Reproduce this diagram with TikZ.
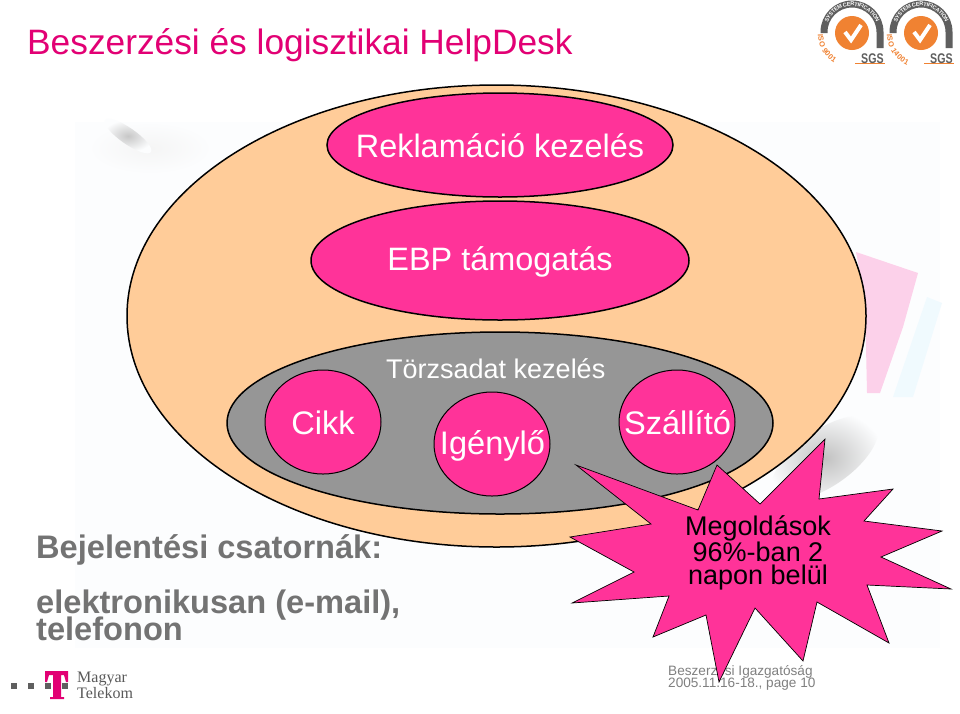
\documentclass[tikz,border=0pt]{standalone}
\usepackage{fontspec}
\setmainfont{Liberation Sans}
\newfontfamily\logofont{Liberation Serif}
\usetikzlibrary{shapes.geometric,positioning,decorations.text}
\definecolor{titlepink}{RGB}{226,0,116}
\definecolor{hotpink}{RGB}{255,51,153}
\definecolor{peach}{RGB}{255,204,153}
\definecolor{midgrey}{RGB}{150,150,150}
\definecolor{textgrey}{RGB}{115,115,115}
\definecolor{sgsorange}{RGB}{240,130,50}
\definecolor{sgsgrey}{RGB}{95,95,95}
\definecolor{palebg}{RGB}{252,253,254}
\begin{document}
\begin{tikzpicture}
[x=1pt,y=-1pt,
    blob/.style={draw,shape=ellipse,line width=1.5pt,inner sep=0pt},
    petal/.style={blob,fill=hotpink},
    petaltxt/.style={inner sep=0pt,text=white,font=\fontsize{32.4}{32.4}\selectfont},
    disc/.style={draw,shape=ellipse,fill=hotpink,line width=1pt,inner sep=0pt,minimum width=116pt,minimum height=104pt},
    disctxt/.style={inner sep=0pt,text=white,font=\fontsize{32.6}{32.6}\selectfont},
    lab/.style={inner sep=0pt,anchor=base west},
    foot/.style={lab,text=black!50,font=\fontsize{13.6}{13.6}\selectfont},
    chan/.style={lab,text=textgrey,font=\bfseries\fontsize{32.6}{32.6}\selectfont},
    mt/.style={lab,text=black!65,font=\logofont\fontsize{16}{16}\selectfont},
    seal/.style={line width=7pt,sgsgrey}]
\useasboundingbox (0,0) rectangle (960,713);
\fill[white] (0,0) rectangle (960,713);
%%%%% faint picture behind the ellipse
\fill[palebg] (75,122) rectangle (940,648);
\shade[inner color=black!4,outer color=palebg] (150,148) ellipse (62 and 26);
\shade[inner color=black!22,outer color=palebg,rotate around={-35:(128,136)}] (128,136) ellipse (28 and 8);
\fill[magenta!18] (856,252) -- (918,273) -- (903,327) -- (880,393) -- (867,393) -- (865,300) -- cycle;
\fill[cyan!6] (927,297) -- (942,303) -- (913,397) -- (893,397) -- cycle;
\shade[inner color=black!24,outer color=palebg,rotate around={35:(825,458)}] (825,458) ellipse (62 and 28);
%%%%% title
\node (title) [lab,text=titlepink,font=\fontsize{35.3}{35.3}\selectfont] at (27,54) {Beszerzési és logisztikai HelpDesk};
%%%%% ellipses
\node (outer) [blob,fill=peach,minimum width=739pt,minimum height=462pt] at (496.5,316) {};
\node (rekl) [petal,minimum width=346pt,minimum height=104pt] at (500,145) {};
\node (ebp) [petal,minimum width=378pt,minimum height=119pt] at (500,260.5) {};
\node (reklt) [petaltxt] at (500,146) {Reklamáció kezelés};
\node (ebpt) [petaltxt] at (500,262) {EBP támogatás};
\node (tors) [blob,fill=midgrey,minimum width=546pt,minimum height=182pt] at (500,423) {};
\node (torsl) [lab,text=white,font=\fontsize{27}{27}\selectfont] at (386,378) {Törzsadat kezelés};
%% circles
\node (cikk) [disc] at (323,422) {};
\node (igeny) [disc] at (492,444) {};
\node (szall) [disc] at (677,422) {};
\node (cikkt) [disctxt] at (323,423) {Cikk};
\node (igenyt) [disctxt] at (492.5,446) {Igénylő};
\node (szallt) [disctxt] at (677.5,423) {Szállító};
%%%%% left text
\node (bej) [chan] at (36,558) {Bejelentési csatornák:};
\node (elek) [chan] at (36,613) {elektronikusan (e-mail),};
\node (tele) [chan] at (36,640) {telefonon};
%%%%% footer
\node (foot1) [foot] at (668,675) {Beszerzési Igazgatóság};
\node (foot2) [foot] at (668,687.5) {2005.11.16-18., page 10};
%%%%% star
\draw[fill=hotpink,line width=.7pt] (825,439) -- (819,499) -- (893,489) -- (864,521) -- (942,531) -- (881,557) -- (951,589)
    -- (867,585) -- (889,643) -- (817,602) -- (803,661) -- (755,608) -- (719,682) -- (706,615) -- (653,637) -- (669,596)
    -- (572,603) -- (634,572) -- (570,537) -- (651,524) -- (576,465) -- (698,510) -- (717,465) -- (760,504) -- cycle;
\node (meg) [text=black,align=center,font=\fontsize{27}{23}\selectfont,inner sep=0pt] at (758,553) {Megoldások\\96\%-ban 2\\napon belül};
%%%%% SGS seals
\foreach \sx/\num in {0/9001,69/14001}{
  \begin{scope}[shift={(\sx,0)}]
    \fill[sgsorange] (852,33) circle (17pt);
    \draw[white,line width=4pt] (845,32) -- (851,40) -- (861,25);
    \draw[seal] (824,33) -- (824,32) arc[start angle=180,end angle=360,radius=28] -- (880,48);
    \path[decorate,decoration={text along path,text align=center,raise=-2pt,
        text={|\color{white}\bfseries\fontsize{5.5}{5.5}\selectfont|SYSTEM CERTIFICATION}}]
        (824,32) arc[start angle=180,end angle=360,radius=28];
    \path[decorate,decoration={text along path,text align=left,raise=-3pt,
        text={|\color{sgsorange}\bfseries\fontsize{7.5}{7.5}\selectfont|ISO \num}}]
        (821,34) arc[start angle=180,end angle=105,radius=31];
    \draw[sgsorange,line width=.4pt] (855,63.5) -- (885,63.5);
    \node [lab,text=sgsgrey,font=\bfseries\fontsize{14}{14}\selectfont,xscale=.76,transform shape] at (861,63) {SGS};
  \end{scope}
}
%%%%% T logo
\fill[titlepink] (45,671) -- (68,671) -- (68,682) -- (66,682) -- (64,675) -- (61,675) -- (61,697) -- (64,697) -- (64,699)
    -- (50,699) -- (50,697) -- (53,697) -- (53,675) -- (49,675) -- (47,682) -- (45,682) -- cycle;
\foreach \dx in {11,28,45,62}{\fill[sgsgrey] (\dx,683) rectangle +(6,6);}
\node (mag) [mt] at (77,682) {Magyar};
\node (tel) [mt] at (77,698) {Telekom};
\end{tikzpicture}
\end{document}
